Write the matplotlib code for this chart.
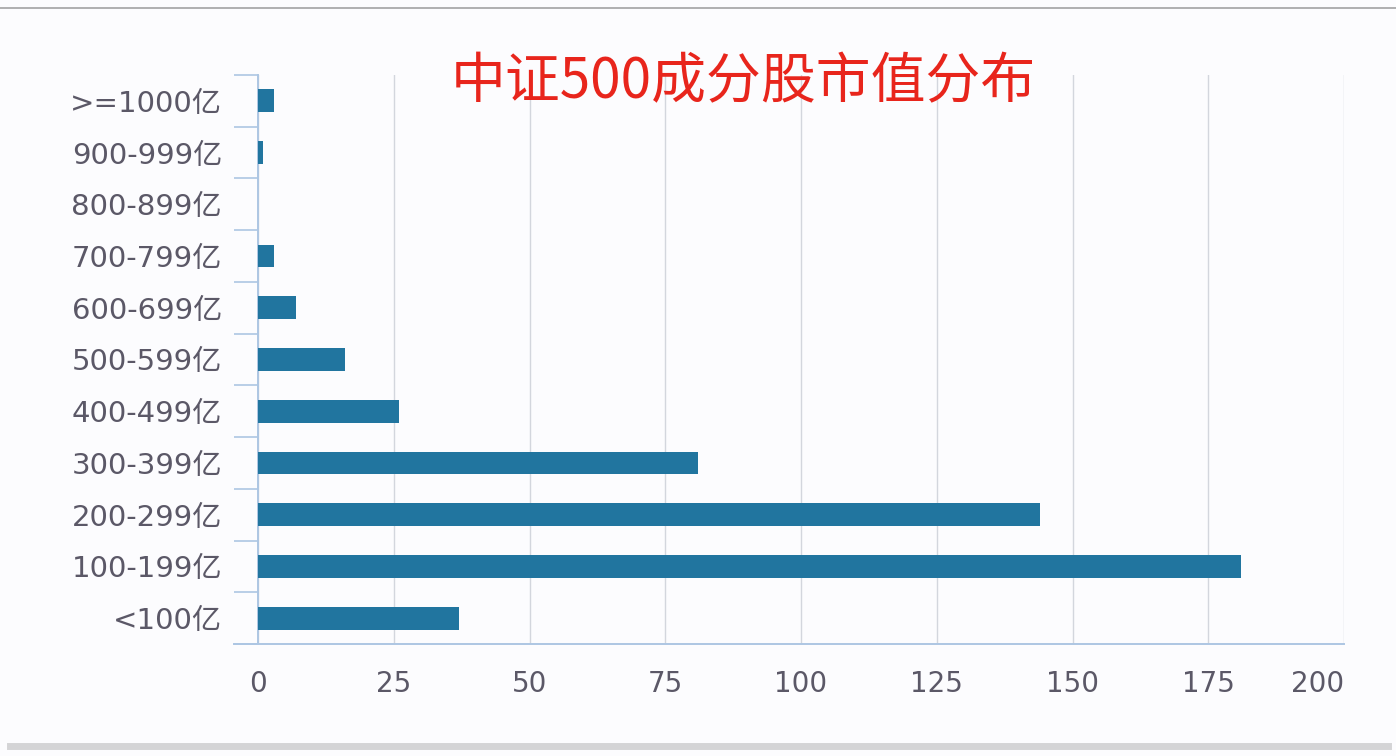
import matplotlib.pyplot as plt
from matplotlib.lines import Line2D
import numpy as np

plt.rcParams['font.family'] = ['DejaVu Sans', 'Noto Sans CJK SC']

# Data, bottom to top as drawn
categories = ["<100亿", "100-199亿", "200-299亿", "300-399亿", "400-499亿",
              "500-599亿", "600-699亿", "700-799亿", "800-899亿", "900-999亿",
              ">=1000亿"]
counts = [37, 181, 144, 81, 26, 16, 7, 3, 0, 1, 3]
xticks = [0, 25, 50, 75, 100, 125, 150, 175, 200]

bar_color = '#21759f'
axis_color = '#adc6e3'
grid_color = '#d3d6dd'
label_color = '#5b5867'

fig = plt.figure(figsize=(13.96, 7.56), dpi=100)
fig.patch.set_facecolor('#fcfcfe')
ax = fig.add_axes([258/1396, 1 - 644/756, 1086/1396, (644 - 75)/756])
ax.set_facecolor('#fcfcfe')

y = np.arange(len(categories))
ax.barh(y, counts, height=0.44, color=bar_color, zorder=3)

ax.set_xlim(0, 200)
ax.set_ylim(-0.5, len(categories) - 0.5)

# x axis: labels only, vertical grid
ax.set_xticks(xticks)
ax.set_xticklabels([str(v) for v in xticks], fontsize=20, color=label_color)
ax.tick_params(axis='x', length=0, pad=19)
ax.grid(axis='x', color=grid_color, lw=1.0, zorder=0)
# last label kept inside the plot edge
ax.get_xticklabels()[-1].set_horizontalalignment('right')

# y axis: boundary ticks, labels between them
ax.set_yticks(np.arange(-0.5, len(categories), 1.0))
ax.set_yticklabels([])
ax.tick_params(axis='y', which='major', length=17, width=1.2, color=axis_color)
ax.set_yticks(y, minor=True)
ax.set_yticklabels(categories, minor=True, fontsize=21, color=label_color)
ax.tick_params(axis='y', which='minor', length=0, pad=26)

for s in ['top', 'right']:
    ax.spines[s].set_visible(False)
for s in ['left', 'bottom']:
    ax.spines[s].set_color(axis_color)
    ax.spines[s].set_linewidth(1.4)

# extend bottom axis line to the left like the boundary ticks
ax.plot([-0.022, 0], [0, 0], transform=ax.transAxes, color=axis_color,
        lw=1.4, clip_on=False)

fig.text(743/1396, 1 - 82/756, "中证500成分股市值分布", color='#e8251c',
         fontsize=39.5, ha='center', va='center',
         family=['Noto Sans CJK SC', 'DejaVu Sans'])

# page decorations
fig.add_artist(Line2D([0, 1], [1 - 8/756, 1 - 8/756], color='#a3a3a3', lw=1.2))
fig.add_artist(Line2D([10/1396, 1388/1396], [1 - 746/756, 1 - 746/756],
                      color='#d4d4d6', lw=5))

fig.savefig("out.png", dpi=100, facecolor=fig.get_facecolor())
